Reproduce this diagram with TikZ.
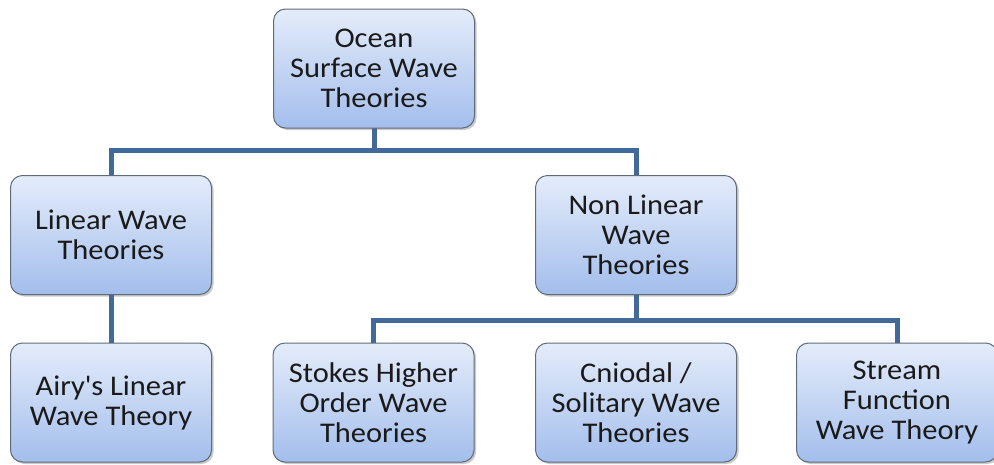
\documentclass[tikz,border=0pt]{standalone}
\usepackage{fontspec}
\setmainfont{Carlito}[FakeStretch=1.07]
\usetikzlibrary{shadows}
\definecolor{boxtop}{HTML}{E4ECFA}
\definecolor{boxbot}{HTML}{A3BEEC}
\definecolor{boxline}{HTML}{5F6B7A}
\definecolor{conn}{HTML}{41699A}
\definecolor{txt}{HTML}{1A1A1A}
\tikzset{
  tbox/.style={draw=boxline, line width=1pt, rounded corners=12pt,
    top color=boxtop, bottom color=boxbot, minimum width=201pt, minimum height=119pt,
    align=center, text=txt, font=\fontsize{28.5}{30}\selectfont, inner sep=0pt,
    drop shadow={shadow xshift=2pt, shadow yshift=-2pt, opacity=0.35, fill=black!60}},
  conn/.style={draw=conn, line width=5pt}
}
\begin{document}
\begin{tikzpicture}[x=1pt,y=-1pt]
\useasboundingbox (0,0) rectangle (994,464);
\draw[conn] (374,128) -- (374,150) coordinate (j1);
\draw[conn] (111,176) |- (j1) -| (636,176);
\draw[conn] (636,294) -- (636,320) coordinate (j2);
\draw[conn] (373,343) |- (j2) -| (897,343);
\draw[conn] (111,294) -- (111,343);
\node[tbox] (root) at (374,68.5) {Ocean\\Surface Wave\\Theories};
\node[tbox] (lin) at (111,235) {Linear Wave\\Theories};
\node[tbox] (nonlin) at (636,235) {Non Linear\\Wave\\Theories};
\node[tbox] (airy) at (111,402.5) {Airy\textquotesingle s Linear\\Wave Theory};
\node[tbox] (stokes) at (373.5,402.5) {Stokes Higher\\Order Wave\\Theories};
\node[tbox] (cnoidal) at (636,402.5) {Cniodal /\\Solitary Wave\\Theories};
\node[tbox] (stream) at (897,402.5) {Stream\\Function\\Wave Theory};
\end{tikzpicture}
\end{document}
